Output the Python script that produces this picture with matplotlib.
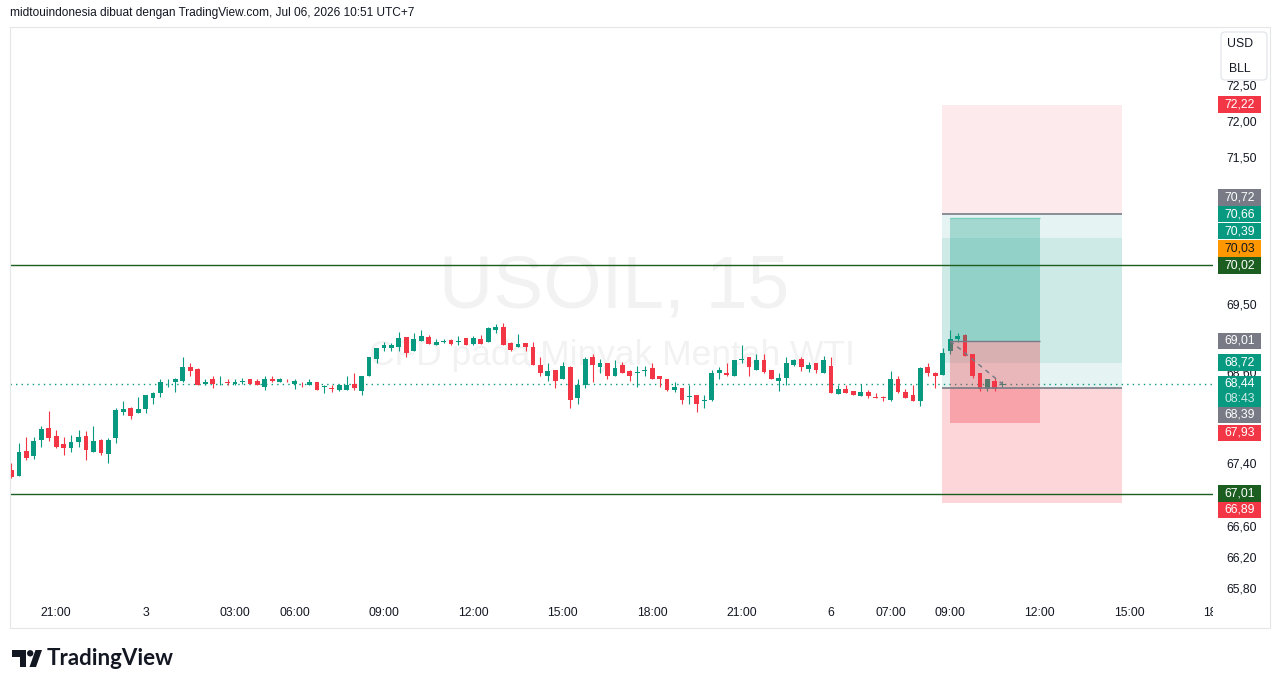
import numpy as np
import matplotlib
matplotlib.use("Agg")
import matplotlib.pyplot as plt
from matplotlib.patches import Rectangle, FancyBboxPatch, Polygon, Circle
from matplotlib.ticker import FixedLocator, FuncFormatter, NullLocator
from matplotlib.transforms import Bbox, IdentityTransform, blended_transform_factory

plt.rcParams['font.family'] = ['Liberation Sans', 'DejaVu Sans']

W, H = 1281, 688

# USOIL 15 menit, OHLC per bar
opens = [67.32, 67.24, 67.56, 67.50, 67.71, 67.86, 67.76, 67.65, 67.60, 67.68,
         67.76, 67.55, 67.70, 67.52, 67.73, 68.07, 68.13, 68.06, 68.11, 68.26,
         68.32, 68.46, 68.46, 68.48, 68.67, 68.64, 68.44, 68.50, 68.46, 68.46,
         68.44, 68.47, 68.50, 68.48, 68.40, 68.50, 68.47, 68.47, 68.44, 68.47,
         68.43, 68.46, 68.40, 68.39, 68.36, 68.36, 68.44, 68.35, 68.54, 68.77,
         68.91, 68.92, 68.93, 69.06, 68.88, 69.01, 69.06, 68.96, 69.00, 69.02,
         69.00, 69.05, 68.97, 69.04, 69.00, 69.16, 69.20, 68.98, 68.93, 68.98,
         68.93, 68.69, 68.55, 68.63, 68.51, 68.67, 68.26, 68.43, 68.79, 68.67,
         68.72, 68.55, 68.69, 68.61, 68.58, 68.61, 68.65, 68.54, 68.50, 68.36,
         68.39, 68.27, 68.30, 68.22, 68.23, 68.59, 68.59, 68.54, 68.76, 68.79,
         68.63, 68.75, 68.63, 68.48, 68.52, 68.69, 68.77, 68.64, 68.71, 68.59,
         68.68, 68.31, 68.38, 68.35, 68.28, 68.34, 68.27, 68.26, 68.23, 68.51,
         68.34, 68.30, 68.22, 68.67, 68.59, 68.56, 68.87, 69.04, 69.09, 68.84,
         68.59, 68.38, 68.48, 68.43]
highs = [67.40, 67.66, 67.74, 67.74, 67.89, 68.09, 67.84, 67.74, 67.77, 67.84,
         67.82, 67.89, 67.72, 67.73, 68.13, 68.21, 68.14, 68.27, 68.30, 68.34,
         68.50, 68.51, 68.52, 68.79, 68.72, 68.65, 68.51, 68.54, 68.54, 68.50,
         68.51, 68.52, 68.51, 68.50, 68.55, 68.55, 68.52, 68.51, 68.50, 68.47,
         68.50, 68.47, 68.42, 68.43, 68.44, 68.54, 68.59, 68.54, 68.80, 68.92,
         69.00, 68.98, 69.13, 69.06, 69.12, 69.16, 69.09, 69.04, 69.04, 69.04,
         69.08, 69.05, 69.08, 69.09, 69.20, 69.24, 69.25, 69.00, 69.10, 68.98,
         69.00, 68.80, 68.71, 68.63, 68.73, 68.68, 68.51, 68.79, 68.84, 68.77,
         68.72, 68.76, 68.73, 68.63, 68.68, 68.68, 68.71, 68.55, 68.50, 68.47,
         68.39, 68.42, 68.30, 68.30, 68.63, 68.67, 68.71, 68.76, 68.95, 68.79,
         68.83, 68.83, 68.63, 68.59, 68.79, 68.77, 68.79, 68.73, 68.71, 68.81,
         68.79, 68.43, 68.43, 68.35, 68.44, 68.36, 68.32, 68.28, 68.61, 68.54,
         68.38, 68.42, 68.67, 68.71, 68.60, 68.91, 69.16, 69.12, 69.10, 68.84,
         68.59, 68.50, 68.52, 68.48]
lows = [67.21, 67.24, 67.44, 67.46, 67.61, 67.69, 67.60, 67.51, 67.55, 67.61,
        67.44, 67.55, 67.51, 67.40, 67.66, 68.03, 67.98, 68.06, 68.06, 68.18,
        68.27, 68.40, 68.34, 68.46, 68.54, 68.42, 68.42, 68.39, 68.42, 68.42,
        68.43, 68.44, 68.44, 68.43, 68.36, 68.46, 68.46, 68.46, 68.38, 68.40,
        68.42, 68.36, 68.32, 68.34, 68.35, 68.36, 68.36, 68.30, 68.54, 68.72,
        68.87, 68.87, 68.88, 68.80, 68.88, 69.01, 68.97, 68.96, 68.98, 68.96,
        68.95, 68.95, 68.95, 68.97, 69.00, 69.12, 68.96, 68.88, 68.93, 68.88,
        68.69, 68.54, 68.48, 68.39, 68.51, 68.13, 68.17, 68.39, 68.46, 68.59,
        68.51, 68.54, 68.58, 68.48, 68.40, 68.55, 68.51, 68.40, 68.35, 68.34,
        68.17, 68.17, 68.07, 68.13, 68.22, 68.50, 68.54, 68.54, 68.72, 68.55,
        68.63, 68.59, 68.50, 68.35, 68.43, 68.68, 68.61, 68.60, 68.59, 68.59,
        68.32, 68.31, 68.32, 68.30, 68.28, 68.26, 68.25, 68.22, 68.21, 68.32,
        68.25, 68.21, 68.15, 68.55, 68.39, 68.56, 68.83, 69.00, 68.81, 68.52,
        68.35, 68.35, 68.35, 68.40]
closes = [67.23, 67.55, 67.47, 67.69, 67.85, 67.73, 67.61, 67.60, 67.68, 67.74,
          67.57, 67.69, 67.53, 67.70, 68.10, 68.11, 68.02, 68.11, 68.30, 68.32,
          68.46, 68.47, 68.50, 68.67, 68.61, 68.42, 68.47, 68.44, 68.47, 68.45,
          68.47, 68.48, 68.44, 68.43, 68.51, 68.48, 68.50, 68.46, 68.48, 68.46,
          68.47, 68.36, 68.41, 68.38, 68.42, 68.42, 68.39, 68.54, 68.80, 68.91,
          68.95, 68.95, 69.05, 68.85, 69.04, 69.08, 68.97, 69.00, 69.01, 68.97,
          69.01, 68.95, 69.05, 68.97, 69.18, 69.20, 68.96, 68.89, 68.97, 68.93,
          68.69, 68.58, 68.61, 68.48, 68.68, 68.23, 68.42, 68.77, 68.69, 68.71,
          68.54, 68.65, 68.58, 68.55, 68.59, 68.63, 68.51, 68.50, 68.36, 68.40,
          68.23, 68.28, 68.18, 68.23, 68.59, 68.63, 68.56, 68.75, 68.77, 68.67,
          68.75, 68.60, 68.50, 68.52, 68.72, 68.75, 68.67, 68.69, 68.63, 68.76,
          68.32, 68.38, 68.32, 68.30, 68.34, 68.28, 68.26, 68.25, 68.50, 68.34,
          68.26, 68.21, 68.65, 68.58, 68.55, 68.85, 69.04, 69.08, 68.81, 68.55,
          68.38, 68.50, 68.38, 68.44]

time_ticks = [6, 18, 30, 38, 50, 62, 74, 86, 98, 110, 118, 126, 138, 150, 162]
time_labels = ["21:00", "3", "03:00", "06:00", "09:00", "12:00", "15:00", "18:00",
               "21:00", "6", "07:00", "09:00", "12:00", "15:00", "18:00"]
# scale labels that are not hidden behind the price tags
price_ticks = [72.5, 72.0, 71.5, 71.0, 69.5, 68.6, 67.4, 66.6, 66.2, 65.8]

last_price = 68.44
countdown = "08:43"
alert_price = 70.03
hlines = [70.02, 67.01]

# alat posisi (level harga)
short_stop, short_entry, long_entry, long_stop = 72.22, 70.72, 68.39, 66.89
band_top, band_bottom = 70.39, 68.72
inner_target, inner_entry, inner_stop = 70.66, 69.01, 67.93
entry_bar = 126

tag_prices = [72.22, 70.72, 70.66, 70.39, 70.03, 70.02, 69.01, 68.72, 68.39, 67.93, 67.01, 66.89]

GREEN = '#089981'
RED = '#f23645'
GRAY = '#787b86'
ORANGE = '#ff9800'
DKGREEN = '#1b5e20'
TXT = '#131722'

tag_colors = [RED, GRAY, GREEN, GREEN, ORANGE, DKGREEN, GRAY, GREEN, GRAY, RED, DKGREEN, RED]
tag_nudge = [0, -16, -4, -7, -16, 0, 0, 0, 27, 10, 0, 7]

fig = plt.figure(figsize=(W / 100, H / 100), dpi=100)
fig.patch.set_facecolor('white')
ID = IdentityTransform()

ax_l, ax_r, ax_t, ax_b = 10, 1213, 27, 600
ax = fig.add_axes([ax_l / W, 1 - ax_b / H, (ax_r - ax_l) / W, (ax_b - ax_t) / H])
ax.set_yscale('log')
ax.set_ylim(65.652, 73.308)
ax.set_xlim(-0.2, 161.28)
for s in ax.spines.values():
    s.set_visible(False)
ax.set_xticks([])
ax.yaxis.tick_right()
ax.yaxis.set_major_locator(FixedLocator(price_ticks))
ax.yaxis.set_minor_locator(NullLocator())
ax.yaxis.set_major_formatter(FuncFormatter(lambda v, p: f"{v:.2f}".replace('.', ',')))
ax.tick_params(axis='y', length=0, pad=9.5, labelsize=8.8, labelcolor=TXT)

# watermark
ax.text(614, H - 288, "USOIL, 15", transform=ID, ha='center', va='center',
        fontsize=54, color='#f2f2f3', zorder=0.5)
ax.text(612, H - 356, "CFD pada Minyak Mentah WTI", transform=ID, ha='center', va='center',
        fontsize=25.5, color='#f2f2f3', zorder=0.5)

# candles
o = np.array(opens); h = np.array(highs); l = np.array(lows); c = np.array(closes)
idx = np.arange(len(o))
col = np.where(c >= o, GREEN, RED)
ax.vlines(idx, l, h, colors=col, linewidth=0.8, zorder=3)
ax.bar(idx, np.maximum(np.abs(c - o), 0.012), bottom=np.minimum(o, c), width=0.64,
       color=col, linewidth=0, zorder=4)

# position tools
ox0, ox1 = 124.9, 149.05
ix0, ix1 = 126, 138
def drect(x0, x1, y0, y1, color, alpha, z):
    ax.add_patch(Rectangle((x0, y1), x1 - x0, y0 - y1, facecolor=color, alpha=alpha,
                           linewidth=0, zorder=z))
drect(ox0, ox1, short_stop, short_entry, RED, 0.10, 1)
drect(ox0, ox1, short_entry, long_entry, GREEN, 0.10, 1)
drect(ox0, ox1, band_top, band_bottom, GREEN, 0.10, 1)
drect(ox0, ox1, long_entry, long_stop, RED, 0.20, 1)
drect(ix0, ix1, inner_target, inner_entry, GREEN, 0.30, 5)
drect(ix0, ix1, inner_entry, inner_stop, RED, 0.32, 5)
ax.hlines([short_entry, long_entry], ox0, ox1, color=GRAY, linewidth=1.2, zorder=6)
ax.hlines([inner_entry], ix0, ix1, color=GRAY, linewidth=1.0, zorder=6)
ax.hlines([inner_target], ix0, ix1, color='#7fcdbf', linewidth=1.0, zorder=6)
ax.plot([entry_bar, len(o) - 1], [inner_entry, last_price], color=GRAY, lw=1.1,
        ls=(0, (3, 3)), zorder=6)

# horizontal lines
ax.axhline(alert_price, color=ORANGE, lw=0.8, ls=(0, (1, 2)), zorder=6)
for lv in hlines:
    ax.axhline(lv, color=DKGREEN, lw=1.0, zorder=6)
ax.axhline(last_price, color=GREEN, lw=1.0, ls=(0, (1, 3)), zorder=2)

# time axis labels (clipped at price scale)
tr = blended_transform_factory(ax.transData, ax.transAxes)
clip = Bbox.from_extents(0, 0, ax_r, H)
for t, lab in zip(time_ticks, time_labels):
    tx = ax.text(t, -(613 - ax_b) / (ax_b - ax_t), lab, transform=tr, ha='center',
                 va='center', fontsize=8.8, color=TXT, clip_on=True)
    tx.set_clip_box(clip)

def ptext(x, y, s, **kw):
    fig.text(x, H - y, s, transform=ID, **kw)

def prect(x0, y0, x1, y1, **kw):
    fig.add_artist(Rectangle((x0, H - y1), x1 - x0, y1 - y0, transform=ID, **kw))

# price tags
for p, bg, nd in zip(tag_prices, tag_colors, tag_nudge):
    py = H - ax.transData.transform((0, p))[1] + nd
    prect(1218, py - 8.3, 1261, py + 8.3, facecolor=bg, edgecolor='none', zorder=5)
    ptext(1239.5, py, f"{p:.2f}".replace('.', ','), ha='center', va='center',
          fontsize=8.8, color=TXT if bg == ORANGE else 'white', zorder=6)
py = H - ax.transData.transform((0, last_price))[1]
prect(1218, py - 8, 1261, py + 23, facecolor=GREEN, edgecolor='none', zorder=5)
ptext(1239.5, py, f"{last_price:.2f}".replace('.', ','), ha='center', va='center',
      fontsize=8.8, color='white', zorder=6)
ptext(1239.5, py + 15.5, countdown, ha='center', va='center', fontsize=8.8,
      color='#cdebe5', zorder=6)

# currency / unit box
fig.add_artist(FancyBboxPatch((1221, H - 80), 46, 48, transform=ID,
                              boxstyle="round,pad=0,rounding_size=4",
                              facecolor='white', edgecolor='#e0e3eb', lw=0.8, zorder=7))
ptext(1240, 44, "USD", ha='center', va='center', fontsize=8.8, color=TXT, zorder=8)
ptext(1240, 69, "BLL", ha='center', va='center', fontsize=8.8, color=TXT, zorder=8)

# panel border
prect(10, 27, 1270, 628, facecolor='none', edgecolor='#e6e6e6', lw=0.8, zorder=1)

# header
ptext(10, 13, "midtouindonesia dibuat dengan TradingView.com, Jul 06, 2026 10:51 UTC+7",
      ha='left', va='center', fontsize=8.6, color=TXT)

# logo
fig.add_artist(Polygon([(12, H - 650), (26, H - 650), (26, H - 667), (19.5, H - 667),
                        (19.5, H - 656.5), (12, H - 656.5)], closed=True, transform=ID,
                       facecolor=TXT, edgecolor='none'))
fig.add_artist(Circle((30.2, H - 653.3), 3.2, transform=ID, facecolor=TXT, edgecolor='none'))
fig.add_artist(Polygon([(29.5, H - 667), (36, H - 667), (42, H - 650), (35.5, H - 650)],
                       closed=True, transform=ID, facecolor=TXT, edgecolor='none'))
ptext(47, 658.5, "TradingView", ha='left', va='center', fontsize=16, fontweight='bold',
      color=TXT, family=['Lato', 'DejaVu Sans'])

fig.savefig('out.png', dpi=100)
